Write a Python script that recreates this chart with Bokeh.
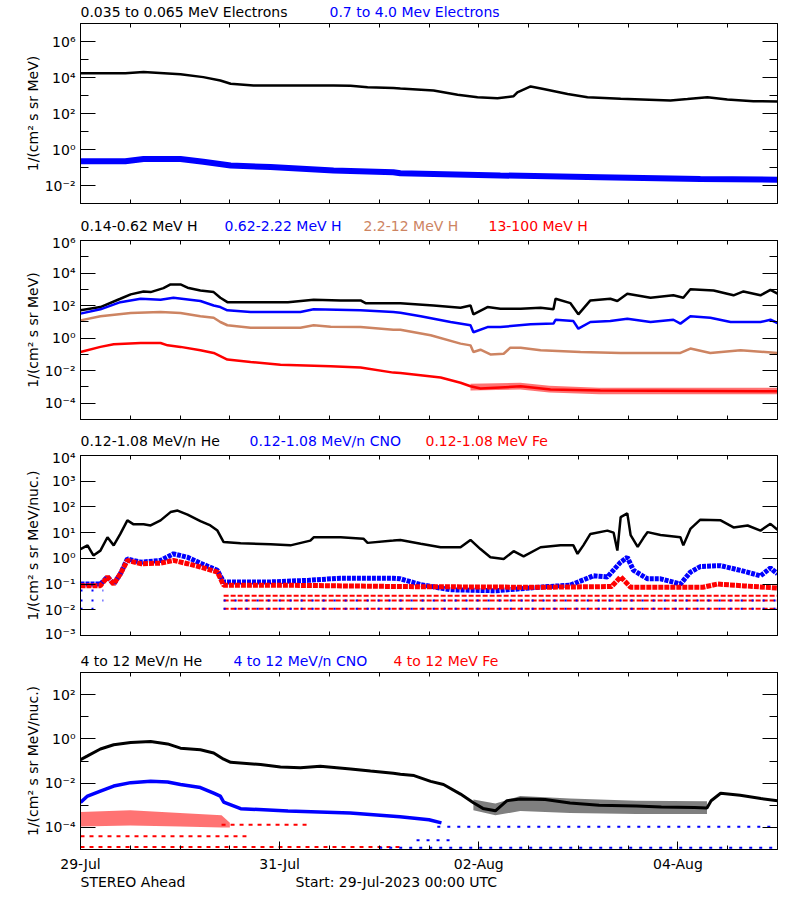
from bokeh.plotting import figure
from bokeh.models import Range1d, FixedTicker, LogAxis, LinearAxis, CustomJSTickFormatter
from bokeh.layouts import column
from bokeh.embed import file_html
from bokeh.resources import INLINE
from bokeh.core.properties import value

FONT = "DejaVu Sans"
FS = "14px"
BLACK = "#000000"
BLUE = "#0000FF"
RED = "#FF0000"
BROWN = "#CD8462"

# ---------------- time axis: hours since 29-Jul-2023 00:00 UTC ----------------
date_ticks = [0, 48, 96, 144]
date_labels = ["29-Jul", "31-Jul", "02-Aug", "04-Aug"]
half_day_ticks = [12, 24, 36, 60, 72, 84, 108, 120, 132, 156]

# ---------------- panel titles ----------------
p1_titles = ["0.035 to 0.065 MeV Electrons", "0.7 to 4.0 Mev Electrons"]
p2_titles = ["0.14-0.62 MeV H", "0.62-2.22 MeV H", "2.2-12 MeV H", "13-100 MeV H"]
p3_titles = ["0.12-1.08 MeV/n He", "0.12-1.08 MeV/n CNO", "0.12-1.08 MeV Fe"]
p4_titles = ["4 to 12 MeV/n He", "4 to 12 MeV/n CNO", "4 to 12 MeV Fe"]
footer_texts = ["STEREO Ahead", "Start: 29-Jul-2023 00:00 UTC"]

# ---------------- panel 1: electrons ----------------
e_lo_t = [0, 10.8, 15.2, 24.1, 29.6, 33.7, 36.2, 41.7, 61.0, 65.1, 69.2, 75.4, 77.1, 85.1, 90.9,
          95.7, 100.5, 104.4, 105.3, 108.5, 111.6, 117.4, 122.2, 130.2, 142.2, 146.3, 151.1, 155.9, 162.2, 168]
e_lo_v = [1.7e4, 1.7e4, 2.0e4, 1.5e4, 1.05e4, 6.8e3, 4.5e3, 3.6e3, 3.6e3, 3.5e3, 2.9e3, 2.6e3, 2.45e3, 1.9e3, 1.1e3,
          8.1e2, 7.1e2, 9.1e2, 1.5e3, 3.2e3, 2.3e3, 1.2e3, 8.1e2, 6.6e2, 5.2e2, 6.3e2, 8.1e2, 6.0e2, 4.8e2, 4.7e2]
e_hi_t = [0, 10.8, 15.2, 24.1, 29.6, 36.2, 45.8, 61.0, 75.4, 77.1, 101.2, 125.3, 149.4, 168]
e_hi_v = [0.22, 0.22, 0.30, 0.30, 0.21, 0.13, 0.105, 0.068, 0.055, 0.048, 0.036, 0.029, 0.023, 0.021]

# ---------------- panel 2: protons ----------------
h1_t = [0, 4.8, 9.6, 12.1, 15.2, 16.9, 20.0, 21.7, 24.1, 25.8, 28.9, 32.1, 33.7, 35.4, 41.0, 50.0,
        56.2, 62.7, 67.5, 68.7, 77.1, 85.1, 91.6, 94.0, 94.7, 98.1, 101.2, 106.1, 110.9, 114.0,
        114.5, 118.1, 120.0, 122.9, 127.7, 129.4, 131.8, 137.4, 142.9, 145.3, 147.0, 152.6, 157.4,
        159.8, 163.9, 166.3, 168]
h1_v = [51, 81, 263, 490, 740, 676, 1175, 2000, 2000, 1260, 850, 676, 302, 162, 158, 158,
        229, 209, 209, 141, 141, 102, 74, 102, 29, 81, 65, 65, 74, 59,
        263, 141, 29, 209, 263, 190, 537, 302, 427, 302, 1000, 851, 427,
        741, 427, 933, 537]
h2_t = [0, 4.8, 9.6, 14.5, 19.3, 22.4, 28.9, 32.1, 33.7, 35.4, 41.0, 53.0, 56.2, 67.5, 75.4, 77.1,
        82.0, 89.2, 94.0, 94.7, 98.1, 101.2, 108.5, 114.0, 114.5, 118.8, 120.0, 122.9, 127.7, 131.8,
        137.4, 142.9, 144.6, 147.0, 151.8, 156.7, 163.9, 166.3, 168]
h2_v = [32, 59, 162, 263, 229, 302, 191, 102, 81, 51, 40, 40, 59, 51, 40, 36,
        22, 9.8, 6.2, 2.3, 4.8, 4.8, 7.1, 7.8, 13.5, 11.2, 3.8, 9.8, 11.2, 15.5,
        9.8, 13.5, 7.8, 22, 18, 9.8, 9.8, 13.5, 8.5]
h3_t = [0, 4.8, 12.1, 19.3, 24.1, 28.9, 32.1, 33.7, 35.4, 41.0, 53.0, 56.2, 60.3, 67.5, 75.4, 77.1,
        84.4, 91.6, 94.0, 94.7, 96.4, 98.8, 102.0, 103.6, 106.1, 110.9, 120.5, 130.2, 144.6, 147.0,
        151.8, 159.1, 168]
h3_v = [12.3, 22, 35, 40, 35, 22, 18, 9.8, 6.2, 4.4, 4.4, 6.2, 5.0, 4.8, 3.3, 3.3,
        1.5, 0.46, 0.36, 0.14, 0.195, 0.10, 0.11, 0.26, 0.26, 0.18, 0.14, 0.123, 0.123, 0.23,
        0.123, 0.18, 0.123]
h4_t = [0, 4.8, 8.0, 14.5, 19.3, 21.0, 24.1, 28.9, 32.1, 35.4, 41.0, 48.2, 60.3, 67.5, 75.4, 77.1,
        86.8, 91.6, 94.0, 96.4, 106.1, 113.3, 125.3, 168]
h4_v = [0.14, 0.29, 0.42, 0.5, 0.5, 0.36, 0.29, 0.18, 0.123, 0.048, 0.034, 0.023, 0.019, 0.0155, 0.0076, 0.0072,
        0.0038, 0.0018, 0.0011, 8.0e-4, 1.1e-3, 7.0e-4, 6.0e-4, 5.5e-4]
h4_spread_t = [94, 106, 113, 125, 168]
h4_spread_lo = [6.0e-4, 7.0e-4, 4.5e-4, 3.6e-4, 3.6e-4]
h4_spread_hi = [1.6e-3, 1.8e-3, 1.2e-3, 9.0e-4, 9.0e-4]

# ---------------- panel 3: 0.12-1.08 MeV/n heavy ions ----------------
he3_t = [0, 1.7, 3.1, 4.8, 6.5, 8.0, 9.6, 11.3, 12.8, 15.2, 16.9, 19.3, 21.7, 23.4, 25.8, 28.9,
         31.3, 33.0, 34.5, 38.6, 45.8, 50.6, 55.4, 56.2, 62.7, 68.2, 69.2, 75.4, 77.1, 82.0, 86.8,
         91.6, 94.0, 96.4, 98.8, 102.0, 104.4, 106.8, 110.9, 115.7, 118.8, 119.8, 121.2, 122.9, 127.0,
         128.5, 129.4, 130.2, 131.8, 132.6, 134.3, 135.7, 136.7, 139.8, 144.6, 145.3, 147.0, 149.4,
         154.3, 157.4, 160.8, 163.9, 166.3, 168]
he3_v = [2.3, 3.2, 1.3, 2.0, 6.6, 3.2, 8.9, 30, 21, 21, 19, 30, 63, 72, 50, 28,
         19, 12, 4.3, 3.9, 3.5, 3.2, 4.9, 6.6, 6.6, 5.8, 4.0, 4.9, 5.2, 3.7, 2.7,
         2.7, 5.2, 2.3, 1.1, 0.95, 1.9, 1.2, 2.7, 3.2, 3.2, 1.5, 3.2, 8.9, 12,
         10, 2.0, 40, 56, 8.0, 2.8, 6.3, 10.5, 8.1, 6.6, 3.2, 14, 32,
         30, 16, 19, 12, 22, 13]
cno3_t = [0, 4.8, 6.5, 8.0, 9.6, 11.3, 14.5, 19.3, 22.4, 25.8, 28.9, 33.0, 34.5, 45.0, 55.0, 62.7,
          75.4, 77.1, 82.0, 89.2, 100.0, 112.6, 118.0, 123.6, 127.0, 130.2, 131.8, 133.3, 136.7, 139.8,
          144.6, 147.0, 149.4, 154.3, 159.1, 163.9, 166.3, 168]
cno3_v = [0.1, 0.1, 0.19, 0.1, 0.25, 0.95, 0.71, 0.83, 1.5, 1.1, 0.65, 0.34, 0.12, 0.12, 0.14, 0.17,
          0.17, 0.16, 0.095, 0.06, 0.055, 0.08, 0.09, 0.21, 0.19, 0.71, 1.1, 0.34, 0.16, 0.16,
          0.1, 0.29, 0.48, 0.52, 0.34, 0.21, 0.42, 0.25]
fe3_t = [0, 4.8, 6.5, 8.0, 9.6, 11.3, 14.5, 19.3, 22.4, 25.8, 28.9, 33.0, 34.5, 50.0, 77.1, 110.0,
         128.0, 130.2, 132.6, 150.0, 153.5, 160.0, 168]
fe3_v = [0.087, 0.087, 0.19, 0.1, 0.25, 0.83, 0.62, 0.65, 0.83, 0.62, 0.46, 0.29, 0.09, 0.09, 0.08, 0.075,
         0.08, 0.19, 0.075, 0.075, 0.1, 0.085, 0.07]
# count-level rows (one or two counts per interval)
fe3_row_level = [0.035, 0.023, 0.011]
fe3_row_start = [34.5, 34.5, 34.5]
fe3_row_end = [168, 168, 168]
cno3_row_level = [0.056, 0.023, 0.011, 0.023, 0.011]
cno3_row_start = [0, 0, 0, 34.5, 34.5]
cno3_row_end = [5.5, 5.5, 3.6, 168, 168]

# ---------------- panel 4: 4-12 MeV/n heavy ions ----------------
he4_t = [0, 1.7, 4.8, 8.0, 12.1, 16.9, 21.0, 24.1, 28.9, 32.1, 34.5, 36.2, 43.4, 48.2, 53.0, 57.8,
         65.1, 69.9, 75.4, 77.1, 80.4, 84.4, 87.5, 91.6, 94.7, 97.0, 100.0, 102.8, 106.0, 112.0,
         118.0, 125.0, 134.0, 140.0, 148.0, 151.0, 152.0, 154.3, 159.0, 164.0, 168]
he4_v = [0.115, 0.17, 0.35, 0.54, 0.68, 0.76, 0.59, 0.38, 0.32, 0.23, 0.12, 0.087, 0.069, 0.054, 0.049, 0.058,
         0.044, 0.035, 0.028, 0.025, 0.022, 0.012, 0.0087, 0.0032, 0.0013, 7.2e-4, 5.6e-4, 1.6e-3, 1.9e-3, 1.8e-3,
         1.26e-3, 1.0e-3, 9.3e-4, 8.3e-4, 8.0e-4, 7.5e-4, 1.6e-3, 3.5e-3, 2.8e-3, 2.0e-3, 1.6e-3]
he4_spread_t = [94.7, 100.0, 106.0, 118.0, 134.0, 151.0]
he4_spread_lo = [6.0e-4, 3.5e-4, 5.5e-4, 4.5e-4, 4.0e-4, 4.0e-4]
he4_spread_hi = [1.8e-3, 1.2e-3, 2.6e-3, 2.0e-3, 1.6e-3, 1.5e-3]
cno4_t = [0, 1.7, 4.8, 8.0, 12.1, 16.9, 21.0, 24.1, 28.9, 32.1, 33.7, 34.5, 38.6, 50.0, 65.0, 77.0, 84.0, 87.0]
cno4_v = [1.35e-3, 2.6e-3, 4.4e-3, 7.4e-3, 0.0105, 0.0123, 0.0112, 8.7e-3, 6.3e-3, 3.5e-3, 2.6e-3, 1.4e-3,
          7.0e-4, 5.5e-4, 4.5e-4, 3.0e-4, 2.2e-4, 1.6e-4]
fe4_t = [0, 12, 24, 34, 36]
fe4_lo = [1.1e-4, 1.2e-4, 1.1e-4, 1.0e-4, 1.0e-4]
fe4_hi = [5.0e-4, 6.0e-4, 4.5e-4, 3.5e-4, 1.6e-4]
fe4_row_level = [1.3e-5, 4.0e-5, 1.3e-4]
fe4_row_start = [0, 0, 34]
fe4_row_end = [77, 40, 55]
cno4_row_level = [1.2e-5, 1.07e-4, 2.6e-5]
cno4_row_start = [72, 86, 81]
cno4_row_end = [168, 168, 90]

SUP_JS = """
const m = {"-": "\\u207b", "0": "\\u2070", "1": "\\u00b9", "2": "\\u00b2", "3": "\\u00b3",
           "4": "\\u2074", "5": "\\u2075", "6": "\\u2076", "7": "\\u2077", "8": "\\u2078", "9": "\\u2079"};
const e = String(Math.round(Math.log10(tick)));
let s = "10";
for (const c of e) { s += m[c]; }
return s;
"""
EMPTY_JS = "return '';"

FIG_W = 792
BORDER_L = 80
BORDER_R = 15


def style_axis(ax, maj, mnr, labels=True):
    ax.major_tick_in = maj
    ax.major_tick_out = 0
    ax.minor_tick_in = mnr
    ax.minor_tick_out = 0
    ax.axis_line_color = "black"
    ax.axis_line_width = 1
    ax.major_tick_line_color = "black"
    ax.minor_tick_line_color = "black"
    ax.major_label_text_font = FONT
    ax.major_label_text_color = "black"
    if labels:
        ax.major_label_text_font_size = FS
    else:
        ax.formatter = CustomJSTickFormatter(code=EMPTY_JS)
        ax.major_label_text_font_size = "1px"
        ax.major_label_standoff = 0


def make_panel(b_top, frame_h, b_bot, yr, major, minor, ylabel, last):
    p = figure(width=FIG_W, height=b_top + frame_h + b_bot, x_range=Range1d(0, 168),
               y_range=Range1d(*yr), y_axis_type="log",
               output_backend="svg", toolbar_location=None,
               min_border_left=BORDER_L, min_border_right=BORDER_R,
               min_border_top=b_top, min_border_bottom=b_bot)
    p.xgrid.visible = False
    p.ygrid.visible = False
    p.outline_line_color = "black"
    p.outline_line_width = 1
    p.background_fill_color = "white"
    p.border_fill_color = "white"

    yt = FixedTicker(ticks=major, minor_ticks=minor)
    xt = FixedTicker(ticks=date_ticks, minor_ticks=half_day_ticks)

    ya = p.yaxis[0]
    ya.ticker = yt
    ya.formatter = CustomJSTickFormatter(code=SUP_JS)
    style_axis(ya, 15, 8)
    ya.major_label_standoff = 5
    ya.axis_label = ylabel
    ya.axis_label_text_font = FONT
    ya.axis_label_text_font_size = FS
    ya.axis_label_text_font_style = "normal"
    ya.axis_label_text_color = "black"
    ya.axis_label_standoff = 1

    xa = p.xaxis[0]
    xa.ticker = xt
    style_axis(xa, 8 if last else 4, 4, labels=last)
    if last:
        xa.major_label_overrides = {t: lab for t, lab in zip(date_ticks, date_labels)}
        xa.major_label_standoff = 6

    ra = LogAxis(ticker=yt)
    style_axis(ra, 15, 8, labels=False)
    p.add_layout(ra, "right")

    ta = LinearAxis(ticker=xt)
    style_axis(ta, 4, 4, labels=False)
    p.add_layout(ta, "above")
    return p


def text_strip(h, xs, baseline, texts, colors):
    s = figure(width=FIG_W, height=h, x_range=Range1d(0, FIG_W - BORDER_L - BORDER_R), y_range=Range1d(0, h),
               x_axis_type=None, y_axis_type=None, output_backend="svg", toolbar_location=None,
               min_border_left=BORDER_L, min_border_right=BORDER_R, min_border_top=0, min_border_bottom=0)
    s.outline_line_color = None
    s.xgrid.visible = False
    s.ygrid.visible = False
    s.background_fill_color = "white"
    s.border_fill_color = "white"
    s.text(x=xs, y=[baseline] * len(xs), text=texts, text_color=colors,
           text_font=value(FONT), text_font_size=value(FS),
           text_baseline="alphabetic", text_align="left")
    return s


UNIT1 = "1/(cm\u00b2 s sr MeV)"
UNIT2 = "1/(cm\u00b2 s sr MeV/nuc.)"

# ---- panel 1
t1 = text_strip(20, [0, 249], 8.6, p1_titles, [BLACK, BLUE])
p1 = make_panel(3, 180, 4, (1e-3, 1e7), [1e-2, 1, 1e2, 1e4, 1e6], [1e-1, 1e1, 1e3, 1e5], UNIT1, False)
p1.line(e_lo_t, e_lo_v, line_color=BLACK, line_width=2.5)
p1.line(e_hi_t, e_hi_v, line_color=BLUE, line_width=6)

# ---- panel 2
t2 = text_strip(27, [0, 144, 283, 408], 8.6, p2_titles, [BLACK, BLUE, BROWN, RED])
p2 = make_panel(6, 179, 4, (1e-5, 1e6), [1e-4, 1e-2, 1, 1e2, 1e4, 1e6], [1e-3, 1e-1, 1e1, 1e3, 1e5], UNIT1, False)
p2.line(h1_t, h1_v, line_color=BLACK, line_width=2.5)
p2.line(h2_t, h2_v, line_color=BLUE, line_width=2.5)
p2.line(h3_t, h3_v, line_color=BROWN, line_width=2.5)
p2.varea(x=h4_spread_t, y1=h4_spread_lo, y2=h4_spread_hi, fill_color=RED, fill_alpha=0.55)
p2.line(h4_t, h4_v, line_color=RED, line_width=2.5)

# ---- panel 3
t3 = text_strip(26, [0, 169, 345], 8.6, p3_titles, [BLACK, BLUE, RED])
p3 = make_panel(6, 180, 6, (1e-3, 1e4), [1e-3, 1e-2, 1e-1, 1, 1e1, 1e2, 1e3, 1e4], [], UNIT2, False)
p3.segment(x0=fe3_row_start, y0=fe3_row_level, x1=fe3_row_end, y1=fe3_row_level,
           line_color=RED, line_width=2, line_dash="5 2")
p3.segment(x0=cno3_row_start, y0=cno3_row_level, x1=cno3_row_end, y1=cno3_row_level,
           line_color=BLUE, line_width=2, line_dash="2 9")
p3.line(he3_t, he3_v, line_color=BLACK, line_width=2.5)
p3.line(cno3_t, cno3_v, line_color=BLUE, line_width=5, line_dash="4 1")
p3.line(fe3_t, fe3_v, line_color=RED, line_width=5, line_dash="5 1")

# ---- panel 4
t4 = text_strip(28, [0, 153, 313], 8.6, p4_titles, [BLACK, BLUE, RED])
p4 = make_panel(3, 179, 23, (1e-5, 1e3), [1e-4, 1e-2, 1, 1e2], [1e-3, 1e-1, 1e1], UNIT2, True)
p4.segment(x0=fe4_row_start, y0=fe4_row_level, x1=fe4_row_end, y1=fe4_row_level,
           line_color=RED, line_width=2, line_dash="4 5")
p4.segment(x0=cno4_row_start, y0=cno4_row_level, x1=cno4_row_end, y1=cno4_row_level,
           line_color=BLUE, line_width=2, line_dash="3 7")
p4.varea(x=he4_spread_t, y1=he4_spread_lo, y2=he4_spread_hi, fill_color=BLACK, fill_alpha=0.5)
p4.line(he4_t, he4_v, line_color=BLACK, line_width=3)
p4.line(cno4_t, cno4_v, line_color=BLUE, line_width=3.5)
p4.varea(x=fe4_t, y1=fe4_lo, y2=fe4_hi, fill_color=RED, fill_alpha=0.55)

# ---- footer
ft = text_strip(17, [0, 215], 9.5, footer_texts, [BLACK, BLACK])

layout = column(t1, p1, t2, p2, t3, p3, t4, p4, ft, spacing=0)
open("out.html", "w", encoding="utf-8").write(file_html(layout, INLINE))
